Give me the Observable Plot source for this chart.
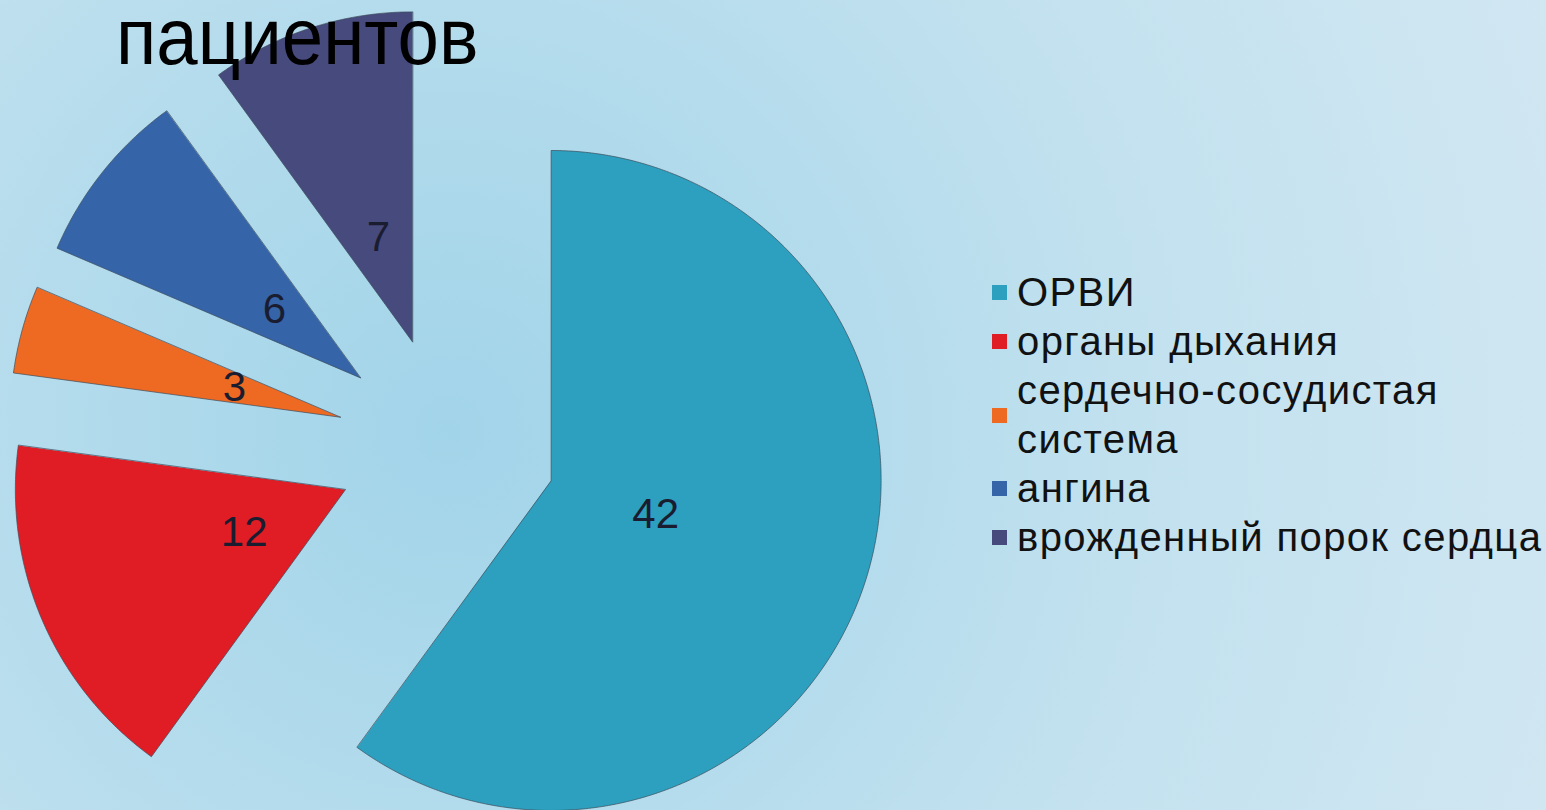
<!DOCTYPE html>
<html>
<head>
<meta charset="utf-8">
<script src="https://cdn.jsdelivr.net/npm/d3@7"></script>
<script src="https://cdn.jsdelivr.net/npm/@observablehq/plot@0.6"></script>
<style>
  html, body { margin: 0; padding: 0; overflow: hidden; }
  #wrap {
    position: relative; width: 1546px; height: 810px; overflow: hidden;
    background: radial-gradient(circle 1250px at 450px 430px, #A2D4E9 0%, #B2DBEC 30%, #C2E1EF 55%, #D3E8F3 100%);
    font-family: "Liberation Sans", Arial, sans-serif;
  }
  #chart { position: absolute; left: 0; top: 0; }
  #title {
    position: absolute; left: 116px; top: 2px; font-size: 80px; line-height: 70px;
    color: #000; white-space: nowrap; z-index: 2;
    transform: scaleX(0.93); transform-origin: 0 0;
  }
  #legend { position: absolute; left: 992px; top: 268px; z-index: 2; }
  .row { display: flex; align-items: center; font-size: 40px; line-height: 49px; letter-spacing: 1.4px; color: #111; }
  .sw { width: 15px; height: 15px; margin-right: 10px; flex: none; }
  .lbl { white-space: pre-line; }
</style>
</head>
<body>
<div id="wrap">
  <div id="chart"></div>
  <div id="title"></div>
  <div id="legend"></div>
</div>
<script>
// ---- data ----
const titleText = "пациентов";
const categories = ["ОРВИ", "органы дыхания", "сердечно-сосудистая система", "ангина", "врожденный порок сердца"];
const legendLines = ["ОРВИ", "органы дыхания", "сердечно-сосудистая\nсистема", "ангина", "врожденный порок сердца"];
const values = [42, 12, 3, 6, 7];
const colors = ["#2CA0BE", "#E01C24", "#EE6A22", "#3564A8", "#474A7D"];

// ---- layout ----
const W = 1546, H = 810;
const cx = 446, cy = 446, R = 330;   // pie centre and radius in pixels
const explode = 1 / 3;               // slice offset, fraction of radius
const labelPos = 1 / 3;              // label distance from slice vertex, fraction of radius

const data = categories.map((name, i) => ({name, value: values[i]}));
const arcs = d3.pie().sort(null).value(d => d.value).startAngle(0).endAngle(2 * Math.PI)(data);

const poly = [];
const labels = [];
arcs.forEach(a => {
  const mid = (a.startAngle + a.endAngle) / 2;
  const ox = explode * Math.sin(mid), oy = -explode * Math.cos(mid);
  poly.push({name: a.data.name, x: ox, y: oy});
  const n = Math.max(8, Math.ceil((a.endAngle - a.startAngle) / (Math.PI / 360)));
  for (let k = 0; k <= n; k++) {
    const t = a.startAngle + (a.endAngle - a.startAngle) * k / n;
    poly.push({name: a.data.name, x: ox + Math.sin(t), y: oy - Math.cos(t)});
  }
  labels.push({
    name: a.data.name, value: a.data.value,
    x: ox + labelPos * Math.sin(mid), y: oy - labelPos * Math.cos(mid)
  });
});

const chart = Plot.plot({
  width: W, height: H,
  margin: 0,
  style: {background: "transparent", overflow: "visible"},
  x: {domain: [-cx / R, (W - cx) / R], range: [0, W], axis: null},
  y: {domain: [-cy / R, (H - cy) / R], range: [0, H], axis: null},
  color: {domain: categories, range: colors},
  marks: [
    Plot.line(poly, {x: "x", y: "y", z: "name", fill: "name", stroke: "#3d4d5c", strokeOpacity: 0.7, strokeWidth: 1, curve: "linear-closed"}),
    Plot.text(labels, {x: "x", y: "y", text: d => String(d.value), fontSize: 42, fill: "#1a1c30", fontFamily: "Liberation Sans, Arial, sans-serif"})
  ]
});
document.getElementById("chart").appendChild(chart);
document.getElementById("title").textContent = titleText;

const legend = document.getElementById("legend");
categories.forEach((c, i) => {
  const row = document.createElement("div");
  row.className = "row";
  const sw = document.createElement("div");
  sw.className = "sw";
  sw.style.background = colors[i];
  const lbl = document.createElement("div");
  lbl.className = "lbl";
  lbl.textContent = legendLines[i];
  row.appendChild(sw); row.appendChild(lbl);
  legend.appendChild(row);
});
</script>
</body>
</html>
